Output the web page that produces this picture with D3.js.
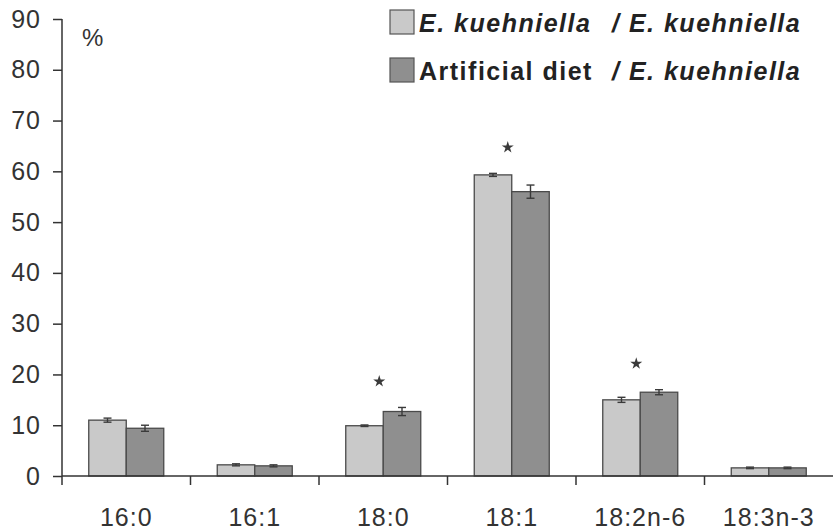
<!DOCTYPE html>
<html>
<head>
<meta charset="utf-8">
<script src="https://cdn.jsdelivr.net/npm/d3@7"></script>
<style>
  html, body { margin: 0; padding: 0; background: #fff; }
  svg { display: block; font-family: "Liberation Sans", Arial, sans-serif; }
</style>
</head>
<body>
<svg id="chart" width="833" height="531"></svg>
<script>
// Fatty acid composition (%) by rearing diet
const categories = ["16:0", "16:1", "18:0", "18:1", "18:2n-6", "18:3n-3"];
const seriesNames = ["E. kuehniella", "Artificial diet"];
const kuehniellaValues = [11.0, 2.2, 9.9, 59.3, 15.0, 1.6];
const kuehniellaErrors = [0.4, 0.2, 0.15, 0.3, 0.5, 0.15];
const artificialValues = [9.4, 2.0, 12.7, 56.0, 16.5, 1.6];
const artificialErrors = [0.6, 0.2, 0.8, 1.3, 0.5, 0.15];
const significant = ["18:0", "18:1", "18:2n-6"];
const yTicks = [0, 10, 20, 30, 40, 50, 60, 70, 80, 90];

const series = [
  { values: kuehniellaValues, errors: kuehniellaErrors, fill: "#c9c9c9" },
  { values: artificialValues, errors: artificialErrors, fill: "#8f8f8f" }
];

const svg = d3.select("#chart");
const margin = { left: 62, right: 0 };
const W = 833;
const ink = "#333";

const x = d3.scaleBand().domain(categories).range([margin.left, W - margin.right]).paddingInner(0).paddingOuter(0);
const y = d3.scaleLinear().domain([0, 90]).range([476, 19]);
const barW = 37.5;
const xs = d3.scaleBand().domain(d3.range(series.length)).range([0, barW * 2]);

// bars
series.forEach((s, si) => {
  const g = svg.append("g");
  g.selectAll("rect").data(categories).join("rect")
    .attr("x", c => x(c) + x.bandwidth() / 2 - barW + xs(si))
    .attr("y", (c, i) => y(s.values[i]))
    .attr("width", barW)
    .attr("height", (c, i) => y(0) - y(s.values[i]))
    .attr("fill", s.fill)
    .attr("stroke", "#4a4a4a")
    .attr("stroke-width", 1.3);
  // error bars
  const eb = g.selectAll("g.err").data(categories).join("g").attr("class", "err");
  const cx = c => x(c) + x.bandwidth() / 2 - barW + xs(si) + barW / 2;
  eb.append("line")
    .attr("x1", cx).attr("x2", cx)
    .attr("y1", (c, i) => y(s.values[i] + s.errors[i]))
    .attr("y2", (c, i) => y(s.values[i] - s.errors[i]));
  [1, -1].forEach(sign => {
    eb.append("line")
      .attr("x1", c => cx(c) - 4).attr("x2", c => cx(c) + 4)
      .attr("y1", (c, i) => y(s.values[i] + sign * s.errors[i]))
      .attr("y2", (c, i) => y(s.values[i] + sign * s.errors[i]));
  });
  eb.selectAll("line").attr("stroke", "#3a3a3a").attr("stroke-width", 1.4);
});

// significance markers (five-point stars above each pair)
const star = d3.symbol().type(d3.symbolStar).size(45);
svg.append("g").selectAll("path").data(significant).join("path")
  .attr("d", star)
  .attr("transform", c => {
    const i = categories.indexOf(c);
    const top = Math.max(kuehniellaValues[i] + kuehniellaErrors[i], artificialValues[i] + artificialErrors[i]);
    return `translate(${x(c) + x.bandwidth() / 2 - 4},${y(top) - 26})`;
  })
  .attr("fill", "#3a3a3a");

// y axis
const yAxis = d3.axisLeft(y).tickValues(yTicks).tickSize(9).tickPadding(12).tickSizeOuter(0);
const gy = svg.append("g").attr("transform", `translate(${margin.left},0)`).call(yAxis);
gy.select(".domain").remove();
gy.append("line").attr("x1", 0).attr("x2", 0).attr("y1", y(90)).attr("y2", y(0) + 9)
  .attr("stroke", ink).attr("stroke-width", 1.5);
gy.selectAll(".tick line").attr("stroke", ink).attr("stroke-width", 1.5);
gy.selectAll(".tick text").attr("font-size", 25).attr("fill", ink)
  .attr("letter-spacing", 1)
  .attr("font-family", "'Liberation Sans', Arial, sans-serif");

// x axis
const gx = svg.append("g").attr("transform", `translate(0,${y(0)})`);
gx.append("line").attr("x1", margin.left).attr("x2", W).attr("y1", 0).attr("y2", 0)
  .attr("stroke", ink).attr("stroke-width", 1.5);
gx.selectAll("line.sep").data(categories.slice(1)).join("line").attr("class", "sep")
  .attr("x1", c => x(c)).attr("x2", c => x(c)).attr("y1", 0).attr("y2", 9)
  .attr("stroke", ink).attr("stroke-width", 1.5);
gx.selectAll("text").data(categories).join("text")
  .attr("x", c => x(c) + x.bandwidth() / 2)
  .attr("y", 50)
  .attr("text-anchor", "middle")
  .attr("font-size", 25)
  .attr("letter-spacing", 1)
  .attr("fill", ink)
  .text(d => d);

// unit label
svg.append("text").attr("x", 82).attr("y", 46).attr("font-size", 24).attr("fill", ink).text("%");

// legend
const legend = svg.append("g");
series.forEach((s, si) => {
  const ly = 10 + si * 48;
  legend.append("rect").attr("x", 390).attr("y", ly).attr("width", 24).attr("height", 24)
    .attr("fill", s.fill).attr("stroke", "#555").attr("stroke-width", 1.2);
  const t = legend.append("text").attr("x", 419).attr("y", ly + 22)
    .attr("font-size", 25).attr("font-weight", "bold").attr("letter-spacing", 1.5).attr("fill", "#222");
  t.append("tspan").attr("font-style", si === 0 ? "italic" : "normal").text(seriesNames[si]);
  t.append("tspan").attr("x", 612).attr("font-style", "italic").text("/ E. kuehniella");
});
</script>
</body>
</html>
